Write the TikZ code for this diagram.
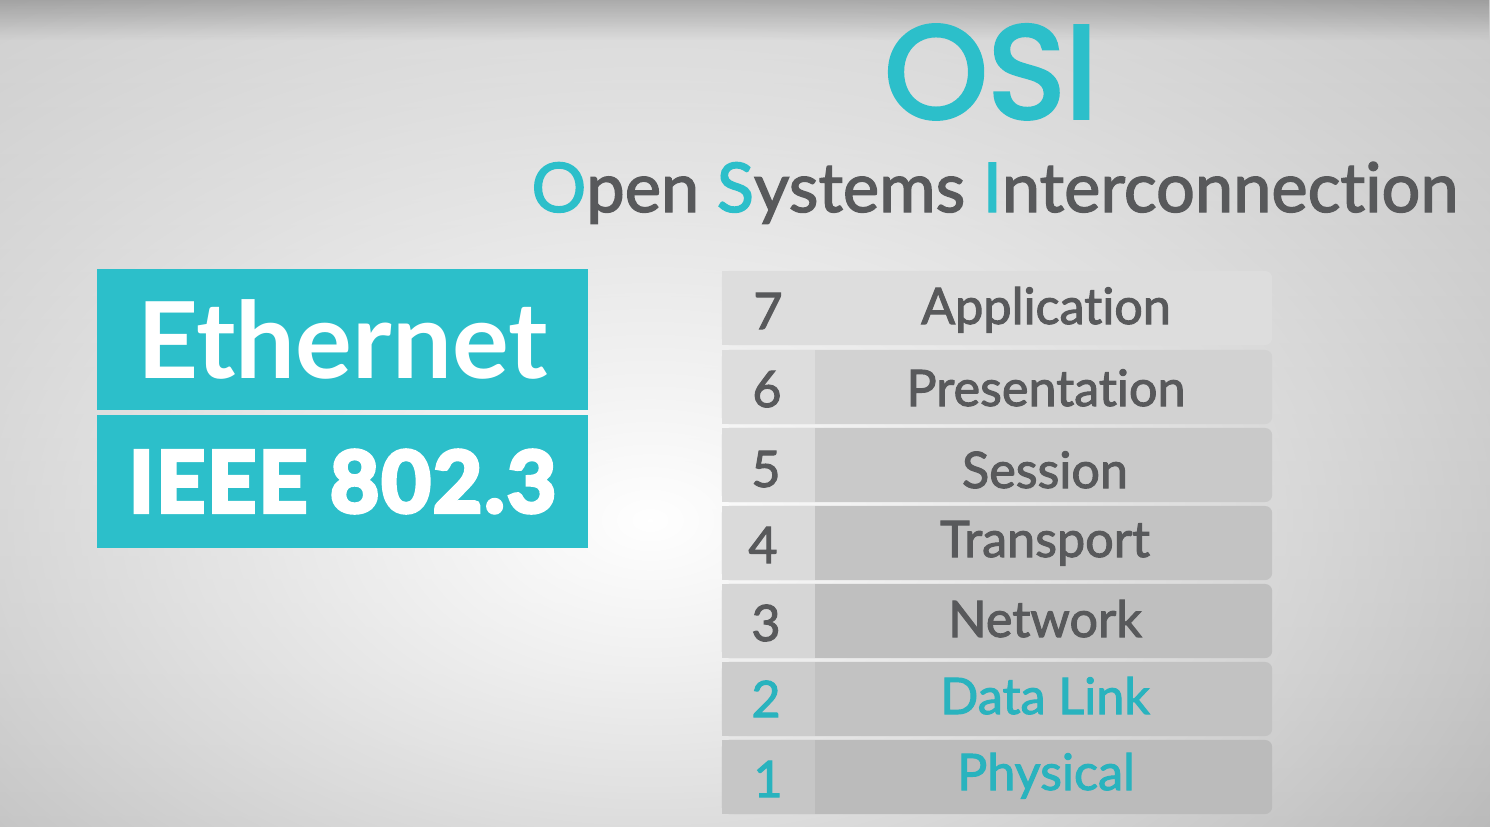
\documentclass[tikz,border=0pt]{standalone}
\usepackage{fontspec}
\setmainfont{Lato}[Ligatures=NoCommon]
\newfontfamily\osifont{Poppins}[FakeBold=3]
\newfontfamily\layerfont{Lato}[FakeBold=2, Ligatures=NoCommon]
\newfontfamily\heavyfont{Lato}[FakeBold=5, LetterSpace=3]
\usetikzlibrary{positioning,fadings}

\definecolor{ositeal}{HTML}{2CBFCA}
\definecolor{layerteal}{HTML}{29B3BE}
\definecolor{osigray}{HTML}{58595B}
\definecolor{bgtop}{HTML}{C6C6C6}
\definecolor{bgmid}{HTML}{D2D2D2}
\definecolor{bgbottom}{HTML}{A3A3A3}
\tikzfading[name=glow, inner color=transparent!0, outer color=transparent!100]

\begin{document}
\begin{tikzpicture}[x=0.01cm, y=-0.01cm,
  every node/.style={inner sep=0pt, outer sep=0pt, text=osigray},
  tealbox/.style={fill=ositeal, text=white, minimum width=4.91cm},
  rowbox/.style={rounded corners=2pt, minimum width=5.50cm, minimum height=0.74cm},
  numbox/.style={minimum width=0.93cm, minimum height=0.74cm},
  layerlab/.style={anchor=base, font=\layerfont\fontsize{14.3}{16}\selectfont}]
  % background
  \useasboundingbox (0,0) rectangle (1490,827);
  \shade[top color=bgtop, middle color=bgmid, bottom color=bgbottom] (0,0) rectangle (1490,827);
  \fill[white, path fading=glow] (650,520) ellipse (1300 and 820);
  \fill[black, opacity=0.22, path fading=south] (0,0) rectangle (1490,40);
  % title
  \node[anchor=base, text=ositeal, font=\osifont\fontsize{37.5}{40}\selectfont] (osi) at (991,118) {OSI};
  \node[anchor=base, font=\layerfont\fontsize{19.5}{22}\selectfont] (osiname) at (995,212)
    {{\color{ositeal}O}pen {\color{ositeal}S}ystems {\color{ositeal}I}nterconnection};
  % ethernet boxes
  \node[tealbox, minimum height=1.41cm, font=\bfseries\fontsize{30.2}{34}\selectfont] (eth) at (342.5,339.5) {Ethernet};
  \node[tealbox, minimum height=1.33cm, font=\heavyfont\bfseries\fontsize{24}{28}\selectfont] (ieee) at (342.5,481.5) {IEEE 802.3};
  % layer rows
  \node[rowbox, fill=black!13.5] (row7) at (997,308) {};
  \node[rowbox, fill=black!17.5] (row6) at (997,387) {};
  \node[rowbox, fill=black!21] (row5) at (997,465) {};
  \node[rowbox, fill=black!23.5] (row4) at (997,543) {};
  \node[rowbox, fill=black!25] (row3) at (997,621) {};
  \node[rowbox, fill=black!24] (row2) at (997,699) {};
  \node[rowbox, fill=black!26.5] (row1) at (997,777) {};
  \node[numbox, fill=black!13.5] (num7) at (768.5,308) {};
  \node[numbox, fill=black!13.5] (num6) at (768.5,387) {};
  \node[numbox, fill=black!14] (num5) at (768.5,465) {};
  \node[numbox, fill=black!14.5] (num4) at (768.5,543) {};
  \node[numbox, fill=black!16] (num3) at (768.5,621) {};
  \node[numbox, fill=black!20] (num2) at (768.5,699) {};
  \node[numbox, fill=black!22.5] (num1) at (768.5,777) {};
  % layer texts
  \node[layerlab] (n7) at (768,329) {7};
  \node[layerlab] (n6) at (767,407) {6};
  \node[layerlab] (n5) at (766,487) {5};
  \node[layerlab] (n4) at (763,563) {4};
  \node[layerlab] (n3) at (766,641) {3};
  \node[layerlab, text=layerteal] (n2) at (766,717) {2};
  \node[layerlab, text=layerteal] (n1) at (768,797) {1};
  \node[layerlab] (l7) at (1046,324) {Application};
  \node[layerlab] (l6) at (1046,406) {Presentation};
  \node[layerlab] (l5) at (1045,488) {Session};
  \node[layerlab] (l4) at (1045,557) {Transport};
  \node[layerlab] (l3) at (1045,637) {Network};
  \node[layerlab, text=layerteal] (l2) at (1045,714) {Data Link};
  \node[layerlab, text=layerteal] (l1) at (1046,790) {Physical};
\end{tikzpicture}
\end{document}
